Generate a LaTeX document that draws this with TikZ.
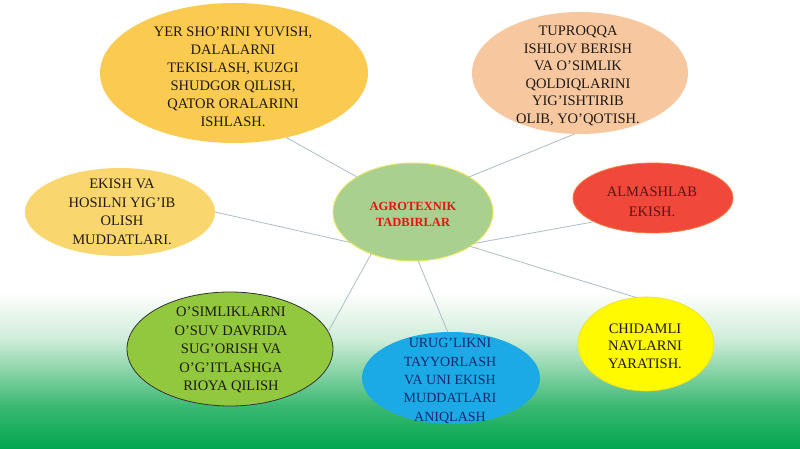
\documentclass[tikz,border=0pt]{standalone}
\usepackage{fontspec}
\setmainfont{Liberation Serif}
\usetikzlibrary{shapes.geometric}
\definecolor{ink}{RGB}{30,25,20}
\definecolor{linkc}{RGB}{175,188,200}
\definecolor{cTL}{RGB}{250,203,80}
\definecolor{cTR}{RGB}{247,200,160}
\definecolor{cL}{RGB}{250,215,110}
\definecolor{cC}{RGB}{169,208,142}
\definecolor{cCd}{RGB}{232,228,100}
\definecolor{cR}{RGB}{240,72,58}
\definecolor{cRd}{RGB}{245,120,60}
\definecolor{cBL}{RGB}{146,200,62}
\definecolor{cB}{RGB}{28,170,230}
\definecolor{cY}{RGB}{255,250,0}
\definecolor{cYd}{RGB}{240,220,40}
\definecolor{gA}{RGB}{205,236,215}
\definecolor{gB}{RGB}{60,185,115}
\definecolor{gC}{RGB}{0,166,80}
\definecolor{navy}{RGB}{20,40,110}
\definecolor{maroon}{RGB}{90,20,20}
\definecolor{redtxt}{RGB}{230,20,20}
\begin{document}
\begin{tikzpicture}[x=1pt,y=-1pt,
  blob/.style={ellipse, inner sep=0pt, outer sep=0pt},
  txt/.style={align=center, inner sep=0pt, font=\fontsize{14.5}{18}\selectfont, text=ink},
  link/.style={draw=linkc, line width=0.8pt}]
\useasboundingbox (0,0) rectangle (800,449);
% background
\fill[white] (0,0) rectangle (800,449);
\shade[top color=white, bottom color=gA] (0,292) rectangle (800,340.5);
\shade[top color=gA, bottom color=gB] (0,340) rectangle (800,405.5);
\shade[top color=gB, bottom color=gC] (0,405) rectangle (800,449);
% ellipses
\node[blob, fill=cTL, minimum width=268pt, minimum height=140pt] (tl) at (234,73) {};
\node[blob, fill=cTR, minimum width=216pt, minimum height=122pt] (tr) at (580,73) {};
\node[blob, fill=cL, minimum width=190pt, minimum height=88pt] (l) at (120,212) {};
\node[blob, fill=cC, draw=cCd, line width=1pt, minimum width=160pt, minimum height=98pt] (c) at (413,212) {};
\node[blob, fill=cR, draw=cRd, line width=0.8pt, minimum width=160pt, minimum height=70pt] (r) at (653,198) {};
\node[blob, fill=cBL, draw=black!80, line width=0.8pt, minimum width=206pt, minimum height=114pt] (bl) at (230,349) {};
\node[blob, fill=cB, minimum width=178pt, minimum height=92pt] (b) at (451,378) {};
\node[blob, fill=cY, draw=cYd, line width=0.6pt, minimum width=136pt, minimum height=94pt] (yr) at (646,344) {};
% connectors
\draw[link] (c.148) -- (tl.-51);
\draw[link] (c.32) -- (tr.-95);
\draw[link] (c.206) -- (l.0);
\draw[link] (c.-27) -- (r.-158);
\draw[link] (c.-31) -- (yr.102);
\draw[link] (c.-135) -- (bl.10);
\draw[link] (c.-84) -- (b.94);
% texts
\node[txt] (tlt) at (233,77) {YER SHO’RINI YUVISH,\\DALALARNI\\TEKISLASH, KUZGI\\SHUDGOR QILISH,\\QATOR ORALARINI\\ISHLASH.};
\node[txt, font=\fontsize{14.5}{17.5}\selectfont] (trt) at (578,76) {TUPROQQA\\ISHLOV BERISH\\VA O’SIMLIK\\QOLDIQLARINI\\YIG’ISHTIRIB\\OLIB, YO’QOTISH.};
\node[txt, font=\fontsize{14.5}{18.5}\selectfont] (lt) at (122,212) {EKISH VA\\HOSILNI YIG’IB\\OLISH\\MUDDATLARI.};
\node[txt, font=\bfseries\fontsize{12.5}{16}\selectfont, text=redtxt] (ct) at (413,214) {AGROTEXNIK\\TADBIRLAR};
\node[txt, font=\fontsize{14.5}{20}\selectfont, text=maroon] (rt) at (652,202) {ALMASHLAB\\EKISH.};
\node[txt, font=\fontsize{14.5}{18.5}\selectfont] (blt) at (231,350) {O’SIMLIKLARNI\\O’SUV DAVRIDA\\SUG’ORISH VA\\O’G’ITLASHGA\\RIOYA QILISH};
\node[txt, font=\fontsize{14}{18.3}\selectfont, text=navy] (bt) at (450,381) {URUG’LIKNI\\TAYYORLASH\\VA UNI EKISH\\MUDDATLARI\\ANIQLASH};
\node[txt, font=\fontsize{14.5}{17.5}\selectfont] (yt) at (645,346) {CHIDAMLI\\NAVLARNI\\YARATISH.};
\end{tikzpicture}
\end{document}
